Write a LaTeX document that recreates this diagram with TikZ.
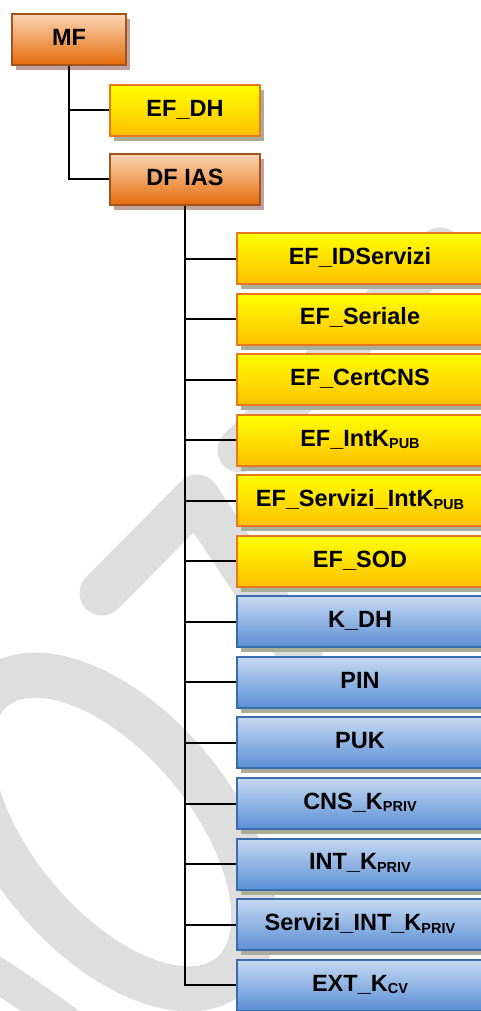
\documentclass[tikz,border=0pt]{standalone}
\usepackage{fontspec}
\setmainfont{Liberation Sans}
\usetikzlibrary{shadows}

\definecolor{wmgrey}{HTML}{DEDEDE}
\definecolor{orgtop}{HTML}{FBD4B4}
\definecolor{orgbot}{HTML}{E46C0A}
\definecolor{orgline}{HTML}{A3541D}
\definecolor{orgshadow}{HTML}{C2A2A0}
\definecolor{yeltop}{HTML}{FFFF00}
\definecolor{yelbot}{HTML}{FFC000}
\definecolor{yelline}{HTML}{E8781F}
\definecolor{blutop}{HTML}{C6D9F1}
\definecolor{blubot}{HTML}{5B8FD6}
\definecolor{bluline}{HTML}{3A6DB0}
\definecolor{boxshadow}{HTML}{A8AE98}

% small lowered capitals used for key subscripts
\newcommand\keysub[1]{\raisebox{-2.5pt}{\fontsize{14.5}{14.5}\selectfont #1}}

\tikzset{
  wmline/.style={draw=wmgrey, line width=45pt, line cap=round, line join=round},
  box/.style={rectangle, line width=2pt, inner sep=0pt,
    font=\fontsize{23.5}{26}\selectfont\bfseries,
    text height=16.8pt, text depth=5pt, minimum height=51pt},
  orangebox/.style={box, draw=orgline, top color=orgtop, bottom color=orgbot,
    drop shadow={shadow xshift=4pt, shadow yshift=-5pt, fill=orgshadow, opacity=1}},
  yellowbox/.style={box, draw=yelline, top color=yeltop, bottom color=yelbot,
    drop shadow={shadow xshift=4pt, shadow yshift=-5pt, fill=boxshadow, opacity=1}},
  bluebox/.style={box, draw=bluline, top color=blutop, bottom color=blubot,
    drop shadow={shadow xshift=4pt, shadow yshift=-5pt, fill=boxshadow, opacity=1}},
  colbox/.style={minimum width=246pt},
  midbox/.style={minimum width=150pt},
  trunk/.style={draw=black, line width=2pt},
  branch/.style={draw=black, line width=2pt},
}

\begin{document}
\begin{tikzpicture}[x=1pt, y=-1pt]
  \useasboundingbox (0,0) rectangle (481,1011);
  \clip (0,0) rectangle (481,1011);

  % background watermark
  \draw[wmline] (102,593) -- (197,497) -- (262,595) -- (300,652);
  \draw[wmline] (240,450) -- (440,250);
  \draw[wmline, rotate around={-50.3:(112,832)}]
    (112,832) ellipse [x radius=186, y radius=100.5];
  \draw[wmline, line width=34pt] (-30,957) .. controls (20,990) and (60,1015) .. (100,1050);

  % root and first level
  \node[orangebox, minimum width=114pt] (mf) at (69,39.5) {MF};
  \node[yellowbox, midbox] (efdh) at (185,110.5) {EF\_DH};
  \node[orangebox, midbox] (dfias) at (185,179.5) {DF IAS};

  % contents of DF IAS
  \node[yellowbox, colbox] (c1)  at (360,258.5) {EF\_IDServizi};
  \node[yellowbox, colbox] (c2)  at (360,319.0) {EF\_Seriale};
  \node[yellowbox, colbox] (c3)  at (360,379.6) {EF\_CertCNS};
  \node[yellowbox, colbox] (c4)  at (360,440.2) {EF\_IntK\keysub{PUB}};
  \node[yellowbox, colbox] (c5)  at (360,500.7) {EF\_Servizi\_IntK\keysub{PUB}};
  \node[yellowbox, colbox] (c6)  at (360,561.3) {EF\_SOD};
  \node[bluebox, colbox]   (c7)  at (360,621.8) {K\_DH};
  \node[bluebox, colbox]   (c8)  at (360,682.4) {PIN};
  \node[bluebox, colbox]   (c9)  at (360,742.9) {PUK};
  \node[bluebox, colbox]   (c10) at (360,803.5) {CNS\_K\keysub{PRIV}};
  \node[bluebox, colbox]   (c11) at (360,864.0) {INT\_K\keysub{PRIV}};
  \node[bluebox, colbox]   (c12) at (360,924.6) {Servizi\_INT\_K\keysub{PRIV}};
  \node[bluebox, colbox]   (c13) at (360,985.1) {EXT\_K\keysub{CV}};

  % connectors of MF
  \draw[trunk] (mf.south) -- (mf.south |- dfias.west) -- (dfias.west);
  \draw[branch] (mf.south |- efdh.west) -- (efdh.west);

  % connectors of DF IAS
  \draw[trunk] (dfias.south) -- (dfias.south |- c13.west) -- (c13.west);
  \foreach \n in {c1,c2,c3,c4,c5,c6,c7,c8,c9,c10,c11,c12}
    \draw[branch] (dfias.south |- \n.west) -- (\n.west);
\end{tikzpicture}
\end{document}
